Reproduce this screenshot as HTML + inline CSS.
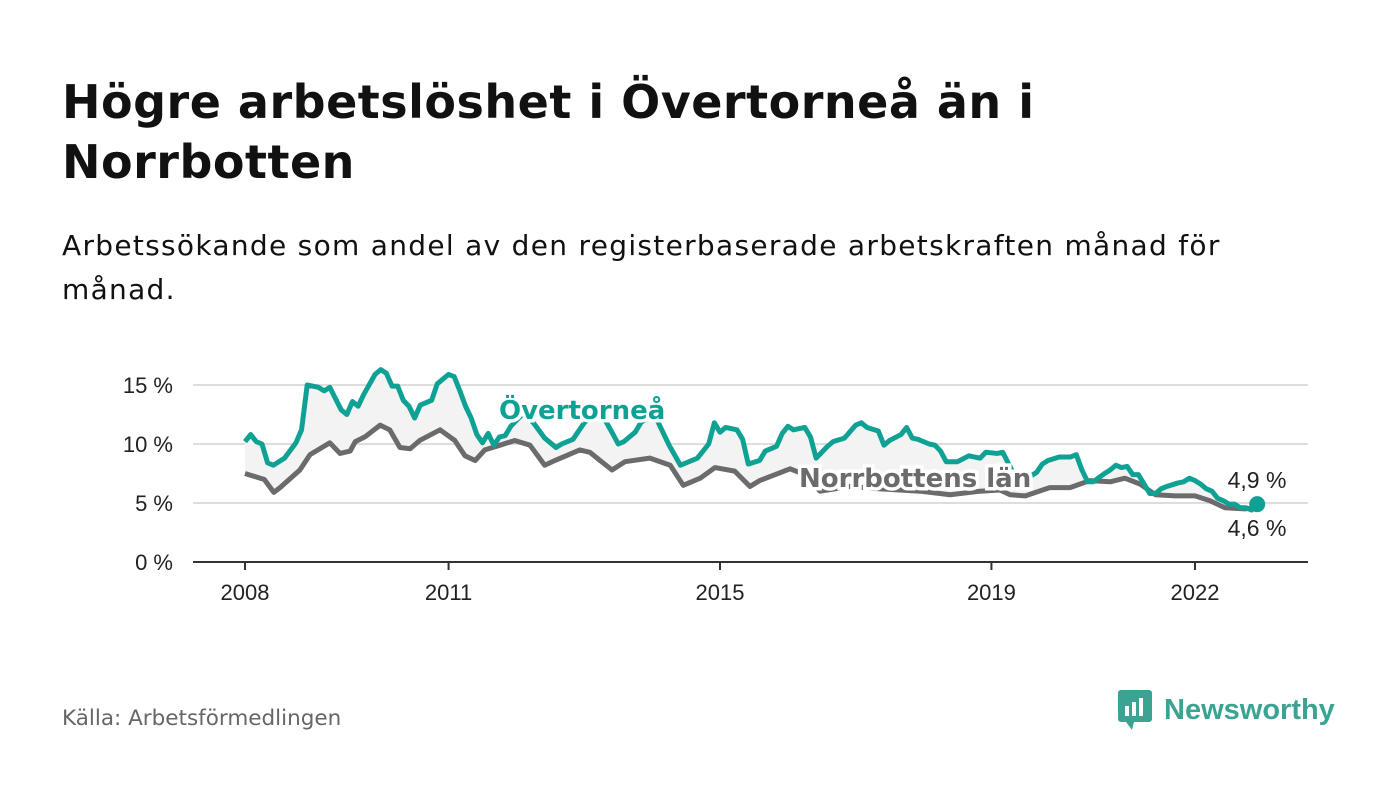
<!DOCTYPE html>
<html><head><meta charset="utf-8">
<style>
body{margin:0;width:1400px;height:794px;background:#fff;font-family:"Liberation Sans",sans-serif;overflow:hidden;position:relative}
h1{position:absolute;left:62px;top:72px;margin:0;font-family:"DejaVu Sans",sans-serif;font-size:46px;letter-spacing:0.5px;line-height:60px;font-weight:bold;color:#111;width:1100px}
.sub{position:absolute;left:62px;top:224px;font-family:"DejaVu Sans",sans-serif;font-size:28px;letter-spacing:1.3px;line-height:44px;color:#111;width:1185px}
.src{position:absolute;left:62px;top:706px;font-family:"DejaVu Sans",sans-serif;font-size:21.5px;color:#666}
.logo{position:absolute;left:1118px;top:690px;display:flex;align-items:center;gap:10px;color:#3aa392;font-weight:bold;font-size:29px}
svg text{font-family:"Liberation Sans",sans-serif}
</style></head><body>
<h1>Högre arbetslöshet i Övertorneå än i Norrbotten</h1>
<div class="sub">Arbetssökande som andel av den registerbaserade arbetskraften månad för månad.</div>
<svg id="chart" width="1400" height="794" style="position:absolute;left:0;top:0"></svg>
<div class="src">Källa: Arbetsförmedlingen</div>
<div class="logo">
<svg width="36" height="40"><rect x="0" y="0" width="34" height="32" rx="3" fill="#3aa392"/><path d="M8 32 L14 40 L16 32Z" fill="#3aa392"/><rect x="7" y="16" width="4" height="10" fill="#fff"/><rect x="14" y="12" width="4" height="14" fill="#fff"/><rect x="21" y="8" width="4" height="18" fill="#fff"/></svg>
<span>Newsworthy</span></div>
<script>
const yTicks=[0,5,10,15];
const yTickLabels=["0 %","5 %","10 %","15 %"];
const xTickYears=[2008,2011,2015,2019,2022];
const overMonths=[0,1,2,3,4,5,7,9,10,11,13,14,15,17,18,19,20,21,23,24,25,26,27,28,29,30,31,33,34,36,37,38,39,40,41,42,43,44,45,46,47,49,51,53,54,55,56,58,60,62,63,65,66,67,69,70,72,73,75,77,78,80,82,83,84,85,87,88,89,91,92,94,95,96,97,99,100,101,103,104,106,108,109,110,112,113,114,116,117,118,119,121,122,123,124,126,128,130,131,133,134,136,138,140,141,142,144,146,147,148,149,150,152,153,154,155,156,157,158,159,160,161,162,163,165,166,167,168,169,170,171,172,173,174,175,176,177,178,179];
const overValues=[10.2,10.8,10.2,10.0,8.4,8.2,8.8,10.1,11.2,15.0,14.8,14.5,14.8,12.9,12.5,13.6,13.2,14.2,15.9,16.3,16.0,14.9,14.9,13.7,13.2,12.2,13.3,13.7,15.1,15.9,15.7,14.5,13.2,12.2,10.8,10.1,10.9,9.9,10.6,10.7,11.5,12.5,11.8,10.5,10.1,9.7,10.0,10.4,11.8,12.7,12.6,10.9,10.0,10.2,11.0,11.8,12.6,11.9,9.9,8.2,8.4,8.8,10.0,11.8,11.0,11.4,11.2,10.4,8.3,8.6,9.4,9.8,10.9,11.5,11.2,11.4,10.6,8.8,9.8,10.2,10.5,11.6,11.8,11.4,11.1,9.9,10.3,10.8,11.4,10.5,10.4,10.0,9.9,9.4,8.5,8.5,9.0,8.8,9.3,9.2,9.3,7.4,7.0,7.6,8.3,8.6,8.9,8.9,9.1,7.8,6.8,6.8,7.5,7.8,8.2,8.0,8.1,7.4,7.4,6.6,5.8,5.8,6.2,6.4,6.7,6.8,7.1,6.9,6.6,6.2,6.0,5.4,5.2,4.9,4.9,4.6,4.6,4.4,4.9];
const norrMonths=[0,2.7,3.4,5.1,6.2,9.7,11.5,15,16.8,18.6,19.5,21.2,23.9,25.6,27.4,29.2,30.9,34.5,37.1,38.9,40.7,42.4,45.1,47.7,50.4,53,54.8,59.2,61,62.8,64.9,67.2,71.6,75.2,77.5,80.5,83.1,86.6,89.3,91,96.4,99,101.7,107,112.3,119.4,124.7,130,133.5,135.3,138,142.3,145.9,149.4,153,155.6,158.3,161,164.5,168,170.6,173.3,176.8,179];
const norrValues=[7.5,7.1,7.0,5.9,6.3,7.8,9.1,10.1,9.2,9.4,10.2,10.6,11.6,11.2,9.7,9.6,10.3,11.2,10.3,9.0,8.6,9.5,9.9,10.3,9.9,8.2,8.6,9.5,9.3,8.6,7.8,8.5,8.8,8.2,6.5,7.1,8.0,7.7,6.4,6.9,7.9,7.4,6.0,6.4,6.2,6.0,5.7,6.0,6.1,5.7,5.6,6.3,6.3,6.9,6.8,7.1,6.6,5.7,5.6,5.6,5.2,4.6,4.5,4.6];
const endLabels=["4,9 %","4,6 %"];

const svg=document.getElementById('chart');const NS='http://www.w3.org/2000/svg';
const x=m=>245+m*(1195-245)/168;
const xYear=y=>x((y-2008)*12);
const yS=v=>562-v*(562-385)/15;
function mk(t,a,p){const e=document.createElementNS(NS,t);for(const k in a)e.setAttribute(k,a[k]);(p||svg).appendChild(e);return e;}
yTicks.forEach((t,i)=>{
 const l=mk('line',{x1:193,x2:1308,y1:yS(t),y2:yS(t),stroke:t===0?'#333':'#ddd','stroke-width':2});
 
 
 const tx=mk('text',{x:173,y:yS(t)+8,'text-anchor':'end','font-size':22,fill:'#222'});tx.textContent=yTickLabels[i];
 
 
});
xTickYears.forEach(yr=>{
 mk('line',{x1:xYear(yr),x2:xYear(yr),y1:562,y2:570,stroke:'#333','stroke-width':2});
 const tx=mk('text',{x:xYear(yr),y:600,'text-anchor':'middle','font-size':22,fill:'#222'});tx.textContent=yr;
 
 
});
let d='M'+overMonths.map((m,i)=>x(m)+','+yS(overValues[i])).join('L');
for(let i=norrMonths.length-1;i>=0;i--)d+='L'+x(norrMonths[i])+','+yS(norrValues[i]);
const area=mk('path',{d:d+'Z',fill:'#f3f3f3'});


const pn=mk('polyline',{points:norrMonths.map((m,i)=>x(m)+','+yS(norrValues[i])).join(' '),fill:'none',stroke:'#6b6a6c','stroke-width':5,'stroke-linejoin':'round'});


const po=mk('polyline',{points:overMonths.map((m,i)=>x(m)+','+yS(overValues[i])).join(' '),fill:'none',stroke:'#0fa294','stroke-width':5,'stroke-linejoin':'round'});


const lastO=overValues.length-1;
const dot=mk('circle',{cx:x(overMonths[lastO]),cy:yS(overValues[lastO]),r:8,fill:'#0fa294'});


function label(txt,xx,yy,col,name,w,size,anchor,fam){
 const t=mk('text',{x:xx,y:yy,'font-size':size,'font-weight':w,fill:col,stroke:'#fff','stroke-width':w==='bold'?7:0,'paint-order':'stroke','text-anchor':anchor||'start'});t.textContent=txt;
 if(fam)t.style.fontFamily=fam;
 
 
}
label('Övertorneå',499,419,'#0fa294','overtornea-label','bold',26,'start','"DejaVu Sans",sans-serif');
label('Norrbottens län',799,487,'#6b6a6c','norrbotten-label','bold',26,'start','"DejaVu Sans",sans-serif');
label(endLabels[0],1257,488,'#222','overtornea-end-value','normal',23,'middle');
label(endLabels[1],1257,536,'#222','norrbotten-end-value','normal',23,'middle');
</script>
</body></html>
